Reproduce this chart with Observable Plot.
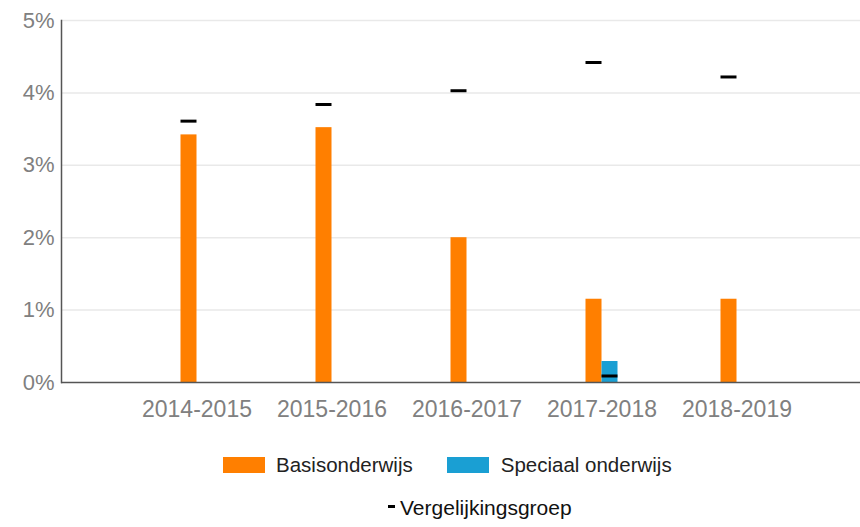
<!DOCTYPE html>
<html>
<head>
<meta charset="utf-8">
<script src="https://cdn.jsdelivr.net/npm/d3@7"></script>
<script src="https://cdn.jsdelivr.net/npm/@observablehq/plot@0.6"></script>
<style>
  body { margin: 0; background: #fff; font-family: "Liberation Sans", Arial, sans-serif; }
  #chart svg { display: block; }
  .legend1 { display: flex; align-items: center; margin-left: 223px; margin-top: 22px; height: 16px; font-size: 20.5px; color: #222; }
  .sw { width: 42px; height: 16px; display: inline-block; }
  .legend2 { display: flex; align-items: center; margin-left: 388px; margin-top: 23px; height: 24px; font-size: 21px; color: #111; }
  .dash { width: 7px; height: 3px; background: #000; display: inline-block; margin-right: 5px; position: relative; top: -2px; }
</style>
</head>
<body>
<div id="chart"></div>
<script>
const years = ["2014-2015", "2015-2016", "2016-2017", "2017-2018", "2018-2019"];
const basisonderwijs = [3.42, 3.52, 2.0, 1.15, 1.15];
const speciaalOnderwijs = [null, null, null, 0.29, null];
const vergelijkBasis = [3.61, 3.84, 4.03, 4.42, 4.22];
const vergelijkSpeciaal = [null, null, null, 0.09, null];
const yTicks = [0, 1, 2, 3, 4, 5];
const seriesNames = ["Basisonderwijs", "Speciaal onderwijs"];
const seriesColors = ["#ff7f00", "#1a9fd3"];
const compareName = "Vergelijkingsgroep";

const basisData = years.map((y, i) => ({year: y, value: basisonderwijs[i], ref: vergelijkBasis[i]}));
const speciaalData = years.map((y, i) => ({year: y, value: speciaalOnderwijs[i], ref: vergelijkSpeciaal[i]}))
  .filter(d => d.value != null);

const halfBand = 67.5, barW = 16;

const chart = Plot.plot({
  width: 860,
  height: 435,
  marginLeft: 61,
  marginRight: 0,
  marginTop: 20,
  marginBottom: 53,
  style: {fontFamily: "'Liberation Sans', Arial, sans-serif", background: "#fff"},
  x: {domain: years, range: [61, 871], paddingInner: 0, paddingOuter: 0.5, label: null},
  y: {domain: [0, 5], label: null},
  marks: [
    Plot.ruleY(yTicks.filter(d => d > 0), {stroke: "#e9e9e9", strokeWidth: 1.5}),
    Plot.barY(basisData, {x: "year", y: "value", fill: seriesColors[0], insetLeft: halfBand - barW, insetRight: halfBand}),
    Plot.barY(speciaalData, {x: "year", y: "value", fill: seriesColors[1], insetLeft: halfBand, insetRight: halfBand - barW}),
    Plot.tickY(basisData, {x: "year", y: "ref", stroke: "#000", strokeWidth: 3, insetLeft: halfBand - barW, insetRight: halfBand}),
    Plot.tickY(speciaalData, {x: "year", y: "ref", stroke: "#000", strokeWidth: 3, insetLeft: halfBand, insetRight: halfBand - barW}),
    Plot.ruleY([0], {stroke: "#555", strokeWidth: 1.5}),
    Plot.frame({anchor: "left", stroke: "#555", strokeWidth: 1.5}),
    Plot.axisY({ticks: yTicks, tickSize: 0, tickPadding: 7, tickFormat: d => d + "%", fontSize: 22, fill: "#808080", label: null}),
    Plot.axisX({tickSize: 0, tickPadding: 18, fontSize: 23, fill: "#808080", label: null})
  ]
});
document.getElementById("chart").appendChild(chart);

const l1 = document.createElement("div");
l1.className = "legend1";
l1.innerHTML = `<span class="sw" style="background:${seriesColors[0]}"></span><span style="margin-left:11px">${seriesNames[0]}</span>` +
  `<span class="sw" style="background:${seriesColors[1]};margin-left:34px"></span><span style="margin-left:12px">${seriesNames[1]}</span>`;
document.body.appendChild(l1);
const l2 = document.createElement("div");
l2.className = "legend2";
l2.innerHTML = `<span class="dash"></span><span>${compareName}</span>`;
document.body.appendChild(l2);
</script>
</body>
</html>
